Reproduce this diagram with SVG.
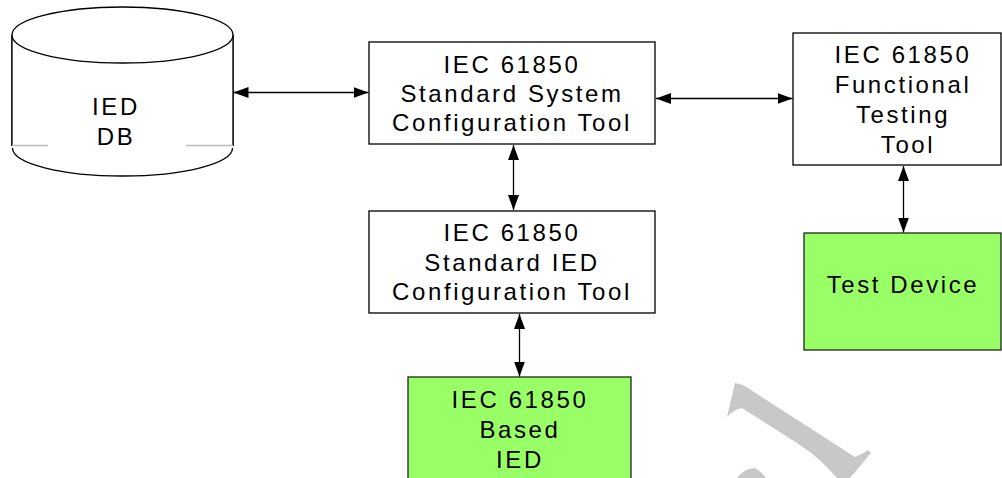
<svg xmlns="http://www.w3.org/2000/svg" width="1002" height="478" viewBox="0 0 1002 478">
<style>
  .box { fill: #ffffff; stroke: #000000; stroke-width: 1.3; }
  .green { fill: #99ff66; stroke: #222222; stroke-width: 1.3; }
  .lbl { font-family: "Liberation Sans", Arial, sans-serif; font-size: 24px; letter-spacing: 2.6px; fill: #000000; text-anchor: middle; }
  .conn { stroke: #000000; stroke-width: 1.3; fill: none; marker-start: url(#arr); marker-end: url(#arr); }
  .mark { fill: #c8c8c8; stroke: none; }
</style>
<defs>
  <marker id="arr" markerUnits="userSpaceOnUse" markerWidth="15" markerHeight="11" refX="15" refY="5.5" orient="auto-start-reverse">
    <path d="M0,0 L15,5.5 L0,11 Z" fill="#000000"/>
  </marker>
</defs>
<rect width="1002" height="478" fill="#ffffff"/>

<g id="watermark">
  <path class="mark" d="M735,383 L743,385 L855,457 Q862,454 868,450 L871,453 L850,478 L837,478 Q820,458 800,445 L742,408 Q733,410 727,417 Z"/>
  <path class="mark" d="M737,478 Q745,468 754,468 Q760,470 766,478 Z"/>
</g>

<g id="ied-db">
  <path d="M12,35 V146 M233,35 V146" fill="#ffffff" stroke="#000" stroke-width="1.3"/>
  <rect x="12" y="35" width="221" height="111" fill="#ffffff"/>
  <path d="M12,35 V146 M233,35 V146" stroke="#000" stroke-width="1.3" fill="none"/>
  <ellipse cx="122.5" cy="35" rx="110.5" ry="28" fill="#ffffff" stroke="#000" stroke-width="1.3"/>
  <path d="M12.5,148 A110,28 0 0 0 232.5,148" fill="#ffffff" stroke="#000" stroke-width="1.3"/>
  <path d="M12,145.5 H48 M186,145.5 H233" stroke="#bbbbbb" stroke-width="1.3"/>
  <text class="lbl" x="116" y="115">IED</text>
  <text class="lbl" x="116" y="145">DB</text>
</g>

<g id="system-tool">
  <rect class="box" x="369" y="42" width="286" height="102"/>
  <text class="lbl" x="512" y="73">IEC 61850</text>
  <text class="lbl" x="512" y="102">Standard System</text>
  <text class="lbl" x="512" y="131">Configuration Tool</text>
</g>

<g id="ied-tool">
  <rect class="box" x="369" y="211" width="286" height="102"/>
  <text class="lbl" x="512" y="241">IEC 61850</text>
  <text class="lbl" x="512" y="271">Standard IED</text>
  <text class="lbl" x="512" y="300">Configuration Tool</text>
</g>

<g id="based-ied">
  <rect class="green" x="408" y="377" width="223" height="110"/>
  <text class="lbl" x="520" y="408">IEC 61850</text>
  <text class="lbl" x="520" y="438">Based</text>
  <text class="lbl" x="520" y="468">IED</text>
</g>

<g id="testing-tool">
  <rect class="box" x="793" y="33" width="208" height="132"/>
  <text class="lbl" x="903" y="63">IEC 61850</text>
  <text class="lbl" x="903" y="93">Functional</text>
  <text class="lbl" x="903" y="123">Testing</text>
  <text class="lbl" x="908" y="153">Tool</text>
</g>

<g id="test-device">
  <rect class="green" x="804" y="233" width="197" height="117"/>
  <text class="lbl" x="903" y="293">Test Device</text>
</g>

<g id="connectors">
  <line class="conn" x1="233.5" y1="92.5" x2="368.5" y2="92.5"/>
  <line class="conn" x1="656" y1="98.5" x2="792.5" y2="98.5"/>
  <line class="conn" x1="513.5" y1="145" x2="513.5" y2="210"/>
  <line class="conn" x1="519.5" y1="314" x2="519.5" y2="376.5"/>
  <line class="conn" x1="903.5" y1="166" x2="903.5" y2="232.5"/>
</g>
</svg>
